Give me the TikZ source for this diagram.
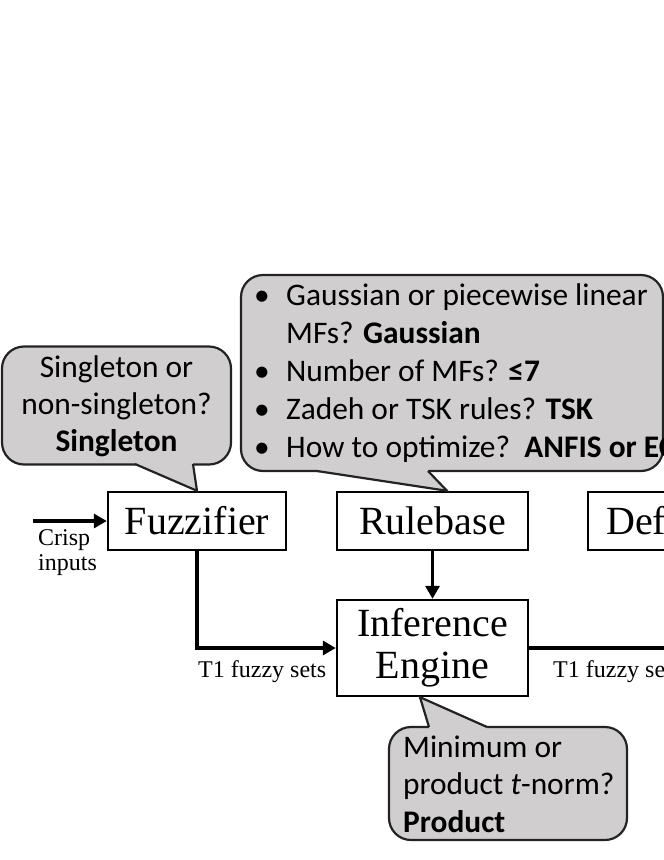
\documentclass[tikz,border=0pt]{standalone}
\usepackage{fontspec}
\setmainfont{Liberation Serif}
\newfontfamily\calfont{Carlito}
\usetikzlibrary{arrows.meta,calc}
\definecolor{cgray}{RGB}{208,206,206}
\definecolor{cline}{RGB}{35,35,35}
\begin{document}
\begin{tikzpicture}[x=1pt,y=-1pt,
  blk/.style={draw, line width=2.4pt, inner sep=0pt, font=\fontsize{40}{42}\selectfont, align=center},
  callout/.style={draw=cline, fill=cgray, line width=2.2pt, rounded corners=22pt, inner sep=0pt},
  ctext/.style={font=\calfont\fontsize{31.4}{37.5}\selectfont, inner sep=0pt},
  ptrfill/.style={fill=cgray},
  ptrline/.style={draw=cline, line width=2.2pt, line join=miter},
  arr/.style={line width=3.2pt, -{Triangle[length=13pt,width=14pt]}},
  plain/.style={line width=3.2pt},
  lbl/.style={font=\fontsize{24}{25}\selectfont, inner sep=0pt}]
\useasboundingbox (0,0) rectangle (664,860);
\clip (0,0) rectangle (664,860);

% blocks
\node[blk, minimum width=178pt, minimum height=58pt] (fz) at (197,521) {Fuzzifier};
\node[blk, minimum width=191pt, minimum height=58pt] (rb) at (432.5,521) {Rulebase};
\node[blk, minimum width=200pt, minimum height=58pt, anchor=west] (df) at (587,521) {};
\node[inner sep=0pt, anchor=west, font=\fontsize{40}{42}\selectfont] (dftext) at (606,521) {Defuzzifier};
\node[blk, minimum width=191pt, minimum height=96pt] (inf) at (432.5,648) {Inference\\Engine};

% connectors
\coordinate (cin) at (33,521);
\coordinate (cout) at (690,648);
\draw[arr] (cin) -- (fz.west);
\draw[arr] (fz.south) |- (inf.west);
\draw[arr] (rb.south) -- (inf.north);
\draw[plain] (inf.east) -- (cout);

% labels
\node[lbl, anchor=west, align=left] (crisp) at (38,553) {Crisp\\inputs};
\node[lbl, anchor=west] (t1a) at (198,672) {T1 fuzzy sets};
\node[lbl, anchor=west] (t1b) at (553,672) {T1 fuzzy sets};

% callout 1
\node[callout, minimum width=229pt, minimum height=118pt] (c1) at (116.5,405.5) {};
\node[ctext, align=center, font=\calfont\fontsize{31.4}{37}\selectfont] (c1t) at (116.5,406) {Singleton or\\non-singleton?\\\textbf{Singleton}};
\coordinate (p1a) at (135,464);
\coordinate (p1b) at (193,464);
\fill[ptrfill] ($(p1a)+(0,-2.5)$) -- (p1a) -- (fz.north) -- (p1b) -- ($(p1b)+(0,-2.5)$) -- cycle;
\draw[ptrline] (p1a) -- (fz.north) -- (p1b);

% callout 2
\node[callout, minimum width=422pt, minimum height=196pt] (c2) at (452,373) {};
\node[ctext, align=left, anchor=west, font=\calfont\fontsize{31.4}{38}\selectfont] (c2t) at (254,373) {%
\makebox[32pt][l]{\textbullet}Gaussian or piecewise linear\\
\hspace*{32pt}MFs? \textbf{Gaussian}\\
\makebox[32pt][l]{\textbullet}Number of MFs? \textbf{≤7}\\
\makebox[32pt][l]{\textbullet}Zadeh or TSK rules? \textbf{TSK}\\
\makebox[32pt][l]{\textbullet}How to optimize?\ \ \textbf{ANFIS or EC}};
\coordinate (p2a) at (317,471);
\coordinate (p2b) at (428,471);
\coordinate (p2t) at ($(rb.north)+(14.5,0)$);
\fill[ptrfill] ($(p2a)+(0,-2.5)$) -- (p2a) -- (p2t) -- (p2b) -- ($(p2b)+(0,-2.5)$) -- cycle;
\draw[ptrline] (p2a) -- (p2t) -- (p2b);

% callout 3
\node[callout, minimum width=238pt, minimum height=113pt] (c3) at (508,783.5) {};
\node[ctext, align=left, anchor=west] (c3t) at (403,784) {Minimum or\\product \textit{t}-norm?\\\textbf{Product}};
\coordinate (p3a) at (429,727);
\coordinate (p3b) at (487,727);
\coordinate (p3t) at ($(inf.south)+(-12.5,0)$);
\fill[ptrfill] ($(p3a)+(0,2.5)$) -- (p3a) -- (p3t) -- (p3b) -- ($(p3b)+(0,2.5)$) -- cycle;
\draw[ptrline] (p3a) -- (p3t) -- (p3b);
\end{tikzpicture}
\end{document}
